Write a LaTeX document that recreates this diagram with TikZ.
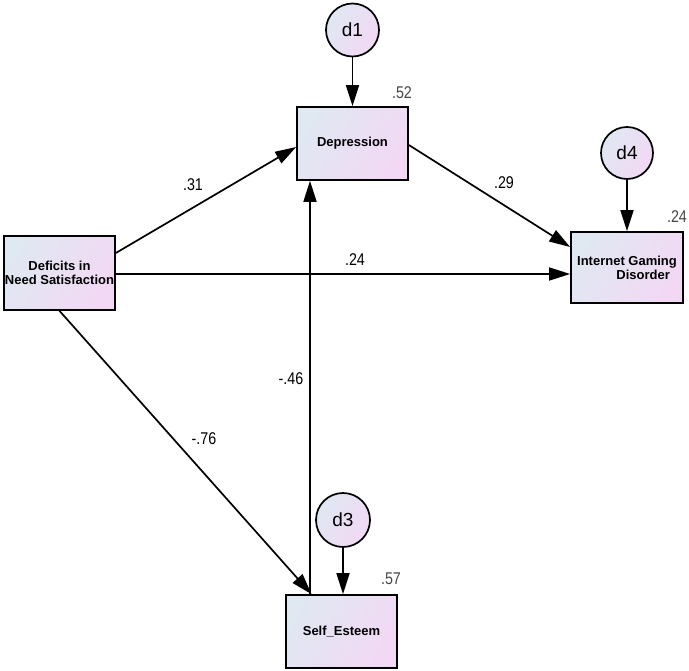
\documentclass[tikz,border=0pt]{standalone}
\usepackage{fontspec}
\usepackage{graphicx}
\setmainfont{Liberation Sans}
\usetikzlibrary{arrows.meta,calc}
\definecolor{gA}{RGB}{224,232,242}
\definecolor{gB}{RGB}{242,216,244}
\definecolor{numgray}{RGB}{70,70,70}
\newcommand{\narrownum}[1]{\scalebox{0.84}[1]{#1}}
\tikzset{
  varbox/.style={draw=black, line width=1.7pt, left color=gA, right color=gB, shading angle=60,
    minimum width=#1, minimum height=73pt, inner sep=0pt, align=center,
    font=\fontsize{13}{14}\selectfont\bfseries},
  errc/.style={circle, draw=black, line width=1.7pt, left color=gA, right color=gB, shading angle=60,
    minimum size=#1, inner sep=0pt, font=\fontsize{19}{20}\selectfont},
  path/.style={draw=black, line width=1.7pt, -{Triangle[length=21pt,width=13pt]}},
  coef/.style={font=\fontsize{17}{18}\selectfont, text=black},
  rsq/.style={font=\fontsize{17}{18}\selectfont, text=numgray},
}
\begin{document}
\begin{tikzpicture}[x=1pt,y=-1pt]
\useasboundingbox (0,0) rectangle (689,671);
% boxes
\node[varbox=111pt, minimum height=74pt] (def) at (59.5,273) {Deficits in\\Need Satisfaction};
\node[varbox=111pt] (dep) at (352.5,143.5) {Depression};
\node[varbox=112pt, minimum height=71pt, align=right] (igd) at (627,267.5) {Internet Gaming\\Disorder\hspace*{7pt}};
\node[varbox=111pt] (se) at (341.5,631.5) {Self\_Esteem};
% error terms
\node[errc=53pt] (d1) at (352.5,30) {d1};
\node[errc=52pt] (d4) at (627,153) {d4};
\node[errc=54pt] (d3) at (343,520) {d3};
% paths
\draw[path] ([yshift=20pt]def.east) -- ([yshift=-3.5pt]dep.west);
\draw[path] ([yshift=-1pt]def.east) -- ([yshift=-1pt]def.east -| igd.west);
\draw[path] ([yshift=-1.5pt]dep.east) -- ([yshift=20.5pt]igd.west);
\draw[path] (def.south) -- ([xshift=-30pt]se.north);
\draw[path] ([xshift=-31.5pt]se.north) -- ([xshift=-42.5pt]dep.south);
\draw[path] (d1.south) -- (dep.north);
\draw[path] (d4.south) -- (igd.north);
\draw[path] (d3.south) -- (d3.south |- se.north);
% coefficients
\node[coef] (c1) at (193,185) {\narrownum{.31}};
\node[coef] (c2) at (355,260) {\narrownum{.24}};
\node[coef] (c3) at (504,183) {\narrownum{.29}};
\node[coef] (c4) at (204,439) {\narrownum{-.76}};
\node[coef] (c5) at (291,379) {\narrownum{-.46}};
% squared multiple correlations
\node[rsq] (r1) at (402,93) {\narrownum{.52}};
\node[rsq] (r2) at (677,217) {\narrownum{.24}};
\node[rsq] (r3) at (391,579) {\narrownum{.57}};
\end{tikzpicture}
\end{document}
